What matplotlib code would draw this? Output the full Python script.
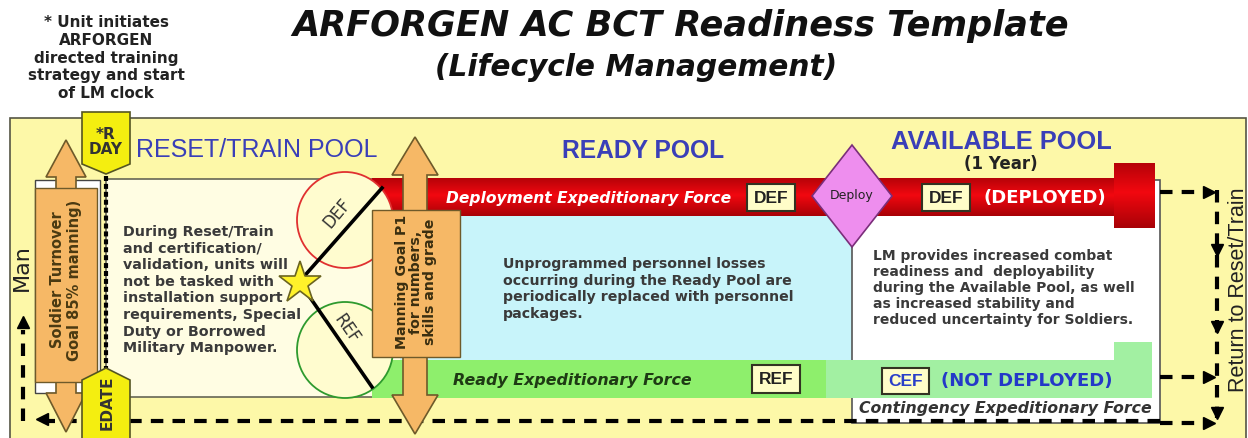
import matplotlib
matplotlib.use("Agg")
import matplotlib.pyplot as plt
import numpy as np
from matplotlib.patches import Rectangle, Polygon, Circle

plt.rcParams['font.family'] = ['Liberation Sans', 'DejaVu Sans']
DV = ['DejaVu Sans']

# ---- text content ----
title_line1 = "ARFORGEN AC BCT Readiness Template"
title_line2 = "(Lifecycle Management)"
note_text = "* Unit initiates\nARFORGEN\ndirected training\nstrategy and start\nof LM clock"
pool_names = ["RESET/TRAIN POOL", "READY POOL", "AVAILABLE POOL"]
avail_sub = "(1 Year)"
reset_text = ("During Reset/Train\nand certification/\nvalidation, units will\nnot be tasked with\n"
              "installation support\nrequirements, Special\nDuty or Borrowed\nMilitary Manpower.")
ready_text = ("Unprogrammed personnel losses\noccurring during the Ready Pool are\n"
              "periodically replaced with personnel\npackages.")
avail_text = ("LM provides increased combat\nreadiness and  deployability\nduring the Available Pool, as well\n"
              "as increased stability and\nreduced uncertainty for Soldiers.")
def_bar_text = "Deployment Expeditionary Force"
ref_bar_text = "Ready Expeditionary Force"
cef_text = "Contingency Expeditionary Force"
force_codes = ["DEF", "REF", "CEF"]
deployed_text = "(DEPLOYED)"
not_deployed_text = "(NOT DEPLOYED)"
deploy_text = "Deploy"
soldier_text = "Soldier Turnover\nGoal 85% manning)"
manning_text = "Manning Goal P1\nfor numbers,\nskills and grade"
rday_text = "*R\nDAY"
edate_text = "EDATE"
man_text = "Man"
return_text = "Return to Reset/Train"

# ---- colours ----
panel_yellow = "#FDF8A8"
cream = "#FFFDE3"
light_blue = "#C8F4FA"
orange = "#F6B866"
orange_edge = "#6E5A2A"
green_ref = "#8EEF6C"
green_cef = "#A2F0A2"
pool_blue = "#3A3FB8"
marker_yellow = "#F4EE10"
body_color = "#3A3A3A"

fig = plt.figure(figsize=(12.48, 4.38), dpi=100)
ax = fig.add_axes([0, 0, 1, 1])
ax.set_xlim(0, 1248)
ax.set_ylim(438, 0)
ax.axis('off')
fig.patch.set_facecolor('white')

# titles
ax.text(681, 26, title_line1, ha='center', va='center', fontsize=25.3, fontweight='bold',
        fontstyle='italic', color='#111111', family=DV)
ax.text(636, 68, title_line2, ha='center', va='center', fontsize=21.3, fontweight='bold',
        fontstyle='italic', color='#111111', family=DV)
ax.text(106, 58, note_text, ha='center', va='center', fontsize=11, fontweight='bold',
        color='#222222', linespacing=1.24, family=DV)

# main panel
ax.add_patch(Rectangle((10, 118), 1236, 330, facecolor=panel_yellow, edgecolor='#555544', lw=1.2, zorder=1))

# reset/train cream box
ax.add_patch(Rectangle((106, 179), 300, 218, facecolor=cream, edgecolor='#666655', lw=1.2, zorder=2))
# ready light blue
ax.add_patch(Rectangle((400, 214), 452, 150, facecolor=light_blue, edgecolor='none', zorder=2))
# available white box
ax.add_patch(Rectangle((852, 180), 308, 243, facecolor='white', edgecolor='#555555', lw=1.2, zorder=2))

# red DEF bar with vertical gradient
grad = np.linspace(0, 1, 64)
prof = np.clip(1 - np.abs(grad - 0.45) * 1.5, 0, 1)
img = np.zeros((64, 1, 3))
img[:, 0, 0] = 0.6 + 0.35 * prof
img[:, 0, 1] = 0.0 + 0.03 * prof
img[:, 0, 2] = 0.02 + 0.04 * prof
ax.imshow(img, extent=(372, 1140, 216, 178), aspect='auto', zorder=3, interpolation='bilinear')
ax.imshow(img, extent=(1114, 1155, 228, 163), aspect='auto', zorder=3, interpolation='bilinear')
ax.set_xlim(0, 1248)
ax.set_ylim(438, 0)

# green bars
ax.add_patch(Rectangle((372, 360), 456, 38, facecolor=green_ref, edgecolor='none', zorder=3))
ax.add_patch(Rectangle((826, 360), 326, 38, facecolor=green_cef, edgecolor='none', zorder=3))
ax.add_patch(Rectangle((1114, 342), 38, 20, facecolor=green_cef, edgecolor='none', zorder=3))

# circles
ax.add_patch(Circle((345, 220), 48, facecolor='#FFFCCF', edgecolor='#E03030', lw=1.3, zorder=4))
ax.add_patch(Circle((345, 350), 48, facecolor='#FFFCCF', edgecolor='#2E9A2E', lw=1.3, zorder=4))
ax.plot([300, 382], [281, 188], color='black', lw=2.6, zorder=5)
ax.plot([300, 372], [283, 387], color='black', lw=2.6, zorder=5)
ax.text(337, 213, force_codes[0], rotation=50, ha='center', va='center', fontsize=12,
        color='#333333', zorder=6, family=DV)
ax.text(347, 329, force_codes[1], rotation=-55, ha='center', va='center', fontsize=12,
        color='#333333', zorder=6, family=DV)
ax.plot([300], [283], marker='*', markersize=32, markerfacecolor='#FFF22A',
        markeredgecolor='#6B6420', markeredgewidth=1.2, zorder=7)

# deploy diamond
ax.add_patch(Polygon([(852, 145), (892, 196), (852, 247), (812, 196)], closed=True,
                     facecolor='#EE8EEE', edgecolor='#7A2E7A', lw=1.2, zorder=6))
ax.text(852, 196, deploy_text, ha='center', va='center', fontsize=9, color='#222222', zorder=7, family=DV)

def code_box(x0, y0, w, h, label, color='#222222'):
    ax.add_patch(Rectangle((x0, y0), w, h, facecolor='#FFFDC8', edgecolor='#333322', lw=1.5, zorder=6))
    ax.text(x0 + w / 2, y0 + h / 2 + 1, label, ha='center', va='center', fontsize=12.5,
            fontweight='bold', color=color, zorder=7)

ax.text(589, 198, def_bar_text, ha='center', va='center', fontsize=11.2, fontweight='bold',
        fontstyle='italic', color='white', zorder=6, family=DV)
code_box(747, 184, 48, 27, force_codes[0])
code_box(922, 184, 48, 27, force_codes[0])
ax.text(1045, 198, deployed_text, ha='center', va='center', fontsize=13, fontweight='bold',
        color='white', zorder=6, family=DV)

ax.text(572, 381, ref_bar_text, ha='center', va='center', fontsize=11.4, fontweight='bold',
        fontstyle='italic', color='#1E3A14', zorder=6, family=DV)
code_box(752, 365, 48, 28, force_codes[1])
code_box(882, 368, 47, 26, force_codes[2], color='#2A3FC8')
ax.text(1027, 381, not_deployed_text, ha='center', va='center', fontsize=13, fontweight='bold',
        color='#2438C8', zorder=6, family=DV)
ax.text(1005, 408, cef_text, ha='center', va='center', fontsize=11.3, fontstyle='italic',
        fontweight='bold', color='#333333', zorder=6, family=DV)

# pool headings
ax.text(257, 150, pool_names[0], ha='center', va='center', fontsize=18, color=pool_blue, zorder=6)
ax.text(643, 151, pool_names[1], ha='center', va='center', fontsize=17.7, fontweight='bold',
        color=pool_blue, zorder=6)
ax.text(1001, 142, pool_names[2], ha='center', va='center', fontsize=18.3, fontweight='bold',
        color=pool_blue, zorder=6)
ax.text(1001, 164, avail_sub, ha='center', va='center', fontsize=12, fontweight='bold',
        color='#222222', zorder=6, family=DV)

# body texts
ax.text(123, 290, reset_text, ha='left', va='center', fontsize=10.3, fontweight='bold',
        color=body_color, linespacing=1.24, zorder=6, family=DV)
ax.text(503, 289, ready_text, ha='left', va='center', fontsize=10.2, fontweight='bold',
        color=body_color, linespacing=1.22, zorder=6, family=DV)
ax.text(873, 288, avail_text, ha='left', va='center', fontsize=10.0, fontweight='bold',
        color=body_color, linespacing=1.2, zorder=6, family=DV)

# double arrows
def double_arrow(cx, top, hb1, hb2, bot, hw, sw):
    pts = [(cx, top), (cx + hw, hb1), (cx + sw, hb1), (cx + sw, hb2), (cx + hw, hb2), (cx, bot),
           (cx - hw, hb2), (cx - sw, hb2), (cx - sw, hb1), (cx - hw, hb1)]
    ax.add_patch(Polygon(pts, closed=True, facecolor=orange, edgecolor=orange_edge, lw=1.2, zorder=8))

# Soldier turnover arrow
ax.add_patch(Rectangle((35, 180), 65, 213, facecolor='white', edgecolor='#444444', lw=1.0, zorder=7))
double_arrow(66, 140, 177, 393, 432, 20, 10)
ax.add_patch(Rectangle((35, 188), 62, 194, facecolor=orange, edgecolor=orange_edge, lw=1.0, zorder=9))
ax.text(66, 280, soldier_text, rotation=90, ha='center', va='center', fontsize=10.5,
        fontweight='bold', color='#4A3A12', linespacing=1.15, zorder=10, family=DV)

# Manning goal arrow
double_arrow(415, 137, 175, 395, 434, 23, 12)
ax.add_patch(Rectangle((372, 210), 88, 147, facecolor=orange, edgecolor=orange_edge, lw=1.0, zorder=9))
ax.text(416, 282, manning_text, rotation=90, ha='center', va='center', fontsize=10.2,
        fontweight='bold', color='#3A2E10', linespacing=1.0, zorder=10, family=DV)

# R DAY dotted line and markers
ax.plot([106, 106], [176, 370], color='black', lw=3, linestyle=(0, (1.2, 0.7)), zorder=5)
ax.add_patch(Polygon([(82, 112), (130, 112), (130, 164), (106, 174), (82, 164)], closed=True,
                     facecolor=marker_yellow, edgecolor='#555522', lw=1.2, zorder=11))
ax.text(106, 142, rday_text, ha='center', va='center', fontsize=11, fontweight='bold',
        color='#333333', linespacing=1.05, zorder=12, family=DV)
ax.add_patch(Polygon([(106, 368), (130, 380), (130, 440), (82, 440), (82, 380)], closed=True,
                     facecolor=marker_yellow, edgecolor='#555522', lw=1.2, zorder=11))
ax.text(107, 403, edate_text, rotation=90, ha='center', va='center', fontsize=11, fontweight='bold',
        color='#333333', zorder=12, family=DV)

# left "Man" return loop
ax.plot([1160, 42], [421, 421], color='black', lw=3, linestyle=(0, (3, 2.2)), zorder=6)
ax.plot([42], [419], marker='<', markersize=9, color='black', zorder=6)
ax.plot([23, 23], [421, 330], color='black', lw=3, linestyle=(0, (3, 2.2)), zorder=6)
ax.plot([23], [322], marker='^', markersize=9, color='black', zorder=6)
ax.text(22, 268, man_text, rotation=90, ha='center', va='center', fontsize=16,
        color='#222222', zorder=6, family=DV)

# right return loop
ax.plot([1217, 1217], [190, 418], color='black', lw=3, linestyle=(0, (3, 2.2)), zorder=6)
for yy in [250, 327, 413]:
    ax.plot([1217], [yy], marker='v', markersize=9, color='black', zorder=6)
for yy, x0 in [(192, 1160), (377, 1160), (423, 1160)]:
    ax.plot([x0, 1206], [yy, yy], color='black', lw=3, linestyle=(0, (3, 2.2)), zorder=6)
    ax.plot([1209], [yy], marker='>', markersize=8, color='black', zorder=6)
ax.text(1238, 290, return_text, rotation=90, ha='center', va='center', fontsize=15.5,
        color='#222222', zorder=6)

fig.savefig("out.png", dpi=100)
